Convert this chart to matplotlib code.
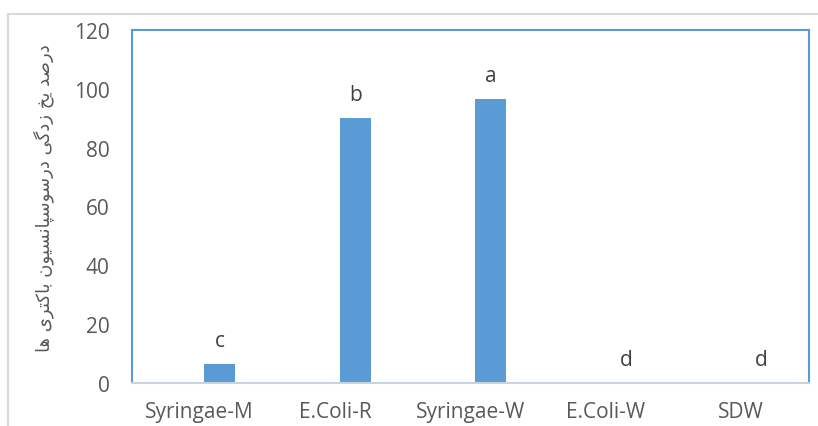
import matplotlib
matplotlib.use("Agg")
import matplotlib.pyplot as plt
from matplotlib.patches import Rectangle

categories = ["Syringae-M", "E.Coli-R", "Syringae-W", "E.Coli-W", "SDW"]
values = [6.4, 90.0, 96.5, 0.0, 0.0]
letters = ["c", "b", "a", "d", "d"]
yticks = [0, 20, 40, 60, 80, 100, 120]
ylabel = "درصد یخ زدگی درسوسپانسیون باکتری ها"

# --- minimal Persian shaping (presentation forms + visual order) ---
FORMS = {  # iso, fin, ini, med (None => right-joining only)
    "\u062F": ("\uFEA9", "\uFEAA", None, None),
    "\u0631": ("\uFEAD", "\uFEAE", None, None),
    "\u0632": ("\uFEAF", "\uFEB0", None, None),
    "\u0648": ("\uFEED", "\uFEEE", None, None),
    "\u0627": ("\uFE8D", "\uFE8E", None, None),
    "\u0635": ("\uFEB9", "\uFEBA", "\uFEBB", "\uFEBC"),
    "\u062E": ("\uFEA5", "\uFEA6", "\uFEA7", "\uFEA8"),
    "\u0633": ("\uFEB1", "\uFEB2", "\uFEB3", "\uFEB4"),
    "\u0646": ("\uFEE5", "\uFEE6", "\uFEE7", "\uFEE8"),
    "\u0628": ("\uFE8F", "\uFE90", "\uFE91", "\uFE92"),
    "\u062A": ("\uFE95", "\uFE96", "\uFE97", "\uFE98"),
    "\u0647": ("\uFEE9", "\uFEEA", "\uFEEB", "\uFEEC"),
    "\u067E": ("\uFB56", "\uFB57", "\uFB58", "\uFB59"),
    "\u06A9": ("\uFB8E", "\uFB8F", "\uFB90", "\uFB91"),
    "\u06AF": ("\uFB92", "\uFB93", "\uFB94", "\uFB95"),
    "\u06CC": ("\uFBFC", "\uFBFD", "\uFBFE", "\uFBFF"),
}


def shape(text):
    out = []
    n = len(text)
    for i, ch in enumerate(text):
        if ch not in FORMS:
            out.append(ch)
            continue
        iso, fin, ini, med = FORMS[ch]
        prev = text[i - 1] if i > 0 else None
        nxt = text[i + 1] if i < n - 1 else None
        join_prev = prev in FORMS and FORMS[prev][2] is not None
        join_next = nxt in FORMS and ini is not None
        if join_prev and join_next:
            out.append(med)
        elif join_prev:
            out.append(fin)
        elif join_next:
            out.append(ini)
        else:
            out.append(iso)
    return "".join(out)[::-1]


plt.rcParams["font.family"] = ["Open Sans", "DejaVu Sans"]
TXT = "#595959"
BLUE = "#5B9BD5"

fig = plt.figure(figsize=(8.18, 4.27), dpi=100)
fig.patches.append(Rectangle((8 / 818, -0.1), 1.2, (427 - 15) / 427 + 0.1,
                             transform=fig.transFigure, fill=False,
                             edgecolor="#D9D9D9", linewidth=1.5))
ax = fig.add_axes([132 / 818, 43 / 427, 677 / 818, 353 / 427])

x = list(range(len(categories)))
offset = 0.148
bx = [xi + offset for xi in x]
ax.bar(bx, values, width=0.23, color=BLUE, zorder=2)
for xi, v, l in zip(bx, values, letters):
    ax.annotate(l, (xi, v), xytext=(0, 17), textcoords="offset points",
                ha="center", va="center", fontsize=15, color="#404040")

ax.set_xlim(-0.5, 4.5)
ax.set_ylim(0, 120)
ax.set_yticks(yticks)
ax.set_xticks(x)
ax.set_xticklabels(categories)
ax.tick_params(axis="both", length=0, labelsize=15, colors=TXT)
ax.tick_params(axis="y", pad=16)
ax.tick_params(axis="x", pad=13)
for s in ["left", "top", "right"]:
    ax.spines[s].set_color(BLUE)
    ax.spines[s].set_linewidth(1.5)
ax.spines["bottom"].set_color("#C9D3DD")
ax.spines["bottom"].set_linewidth(1.5)

fig.text(44 / 818, 1 - 198 / 427, shape(ylabel), rotation=90, ha="center",
         va="center", fontsize=13, color=TXT, family=["DejaVu Sans"])

fig.savefig("out.png", dpi=100)
